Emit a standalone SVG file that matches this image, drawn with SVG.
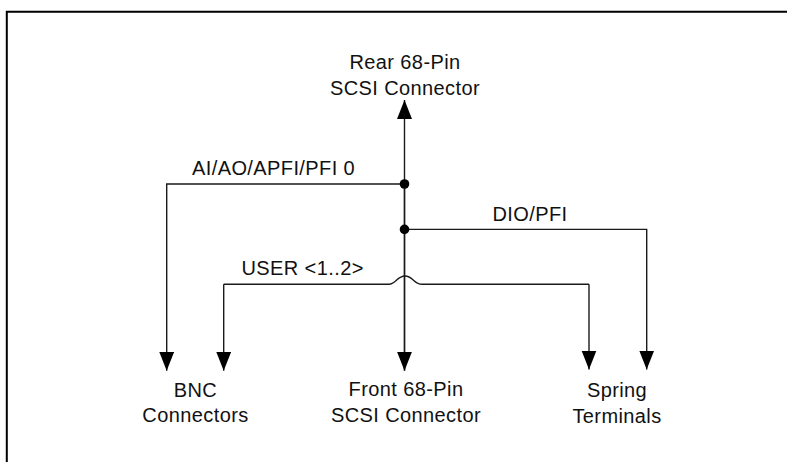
<svg xmlns="http://www.w3.org/2000/svg" width="787" height="462" viewBox="0 0 787 462">
  <defs>
    <marker id="arrow" markerUnits="userSpaceOnUse" markerWidth="20" markerHeight="16" refX="19" refY="7.5" orient="auto">
      <path d="M0,0 L19,7.5 L0,15 Z" fill="#000"/>
    </marker>
    <style>
      .lbl { font-family: "Liberation Sans", Arial, Helvetica, sans-serif; font-size: 20px; fill: #111; letter-spacing: 0.4px; }
      .mid { text-anchor: middle; }
      .wire { fill: none; stroke: #1a1a1a; stroke-width: 1.4; }
      .arr { marker-end: url(#arrow); }
      .dot { fill: #000; }
    </style>
  </defs>
  <rect x="0" y="0" width="787" height="462" fill="#fff"/>
  <path d="M6.8,462 V11.8 H787" fill="none" stroke="#000" stroke-width="2"/>

  <g id="connectors">
    <path class="wire arr" d="M404.5,370.5 V100"/>
    <path class="wire arr" d="M404.5,180 V370.7"/>
    <path class="wire arr" d="M404.5,184 H166.7 V370.7"/>
    <path class="wire arr" d="M404.5,229.4 H646.7 V369.5"/>
    <path class="wire arr" d="M223.7,284.3 V370.7"/>
    <path class="wire" d="M223.7,284.3 H389 C396,284.3 397,276 405,276 C413,276 414,284.3 422,284.3 H589"/>
    <path class="wire arr" d="M589,284.3 V369.5"/>
    <circle class="dot" cx="404.5" cy="184" r="4.8"/>
    <circle class="dot" cx="404.5" cy="229.4" r="4.8"/>
    <text class="lbl" x="192" y="175">AI/AO/APFI/PFI 0</text>
    <text class="lbl" x="492.5" y="220.5">DIO/PFI</text>
    <text class="lbl" x="241.5" y="275">USER &lt;1..2&gt;</text>
  </g>

  <g id="rear-scsi">
    <text class="lbl mid" x="405" y="69">Rear 68-Pin</text>
    <text class="lbl mid" x="405" y="95">SCSI Connector</text>
  </g>
  <g id="bnc">
    <text class="lbl mid" x="195.5" y="396.7">BNC</text>
    <text class="lbl mid" x="195.5" y="422">Connectors</text>
  </g>
  <g id="front-scsi">
    <text class="lbl mid" x="406" y="396">Front 68-Pin</text>
    <text class="lbl mid" x="406" y="421.5">SCSI Connector</text>
  </g>
  <g id="spring">
    <text class="lbl mid" x="617" y="396.7">Spring</text>
    <text class="lbl mid" x="617" y="422.5">Terminals</text>
  </g>
</svg>
